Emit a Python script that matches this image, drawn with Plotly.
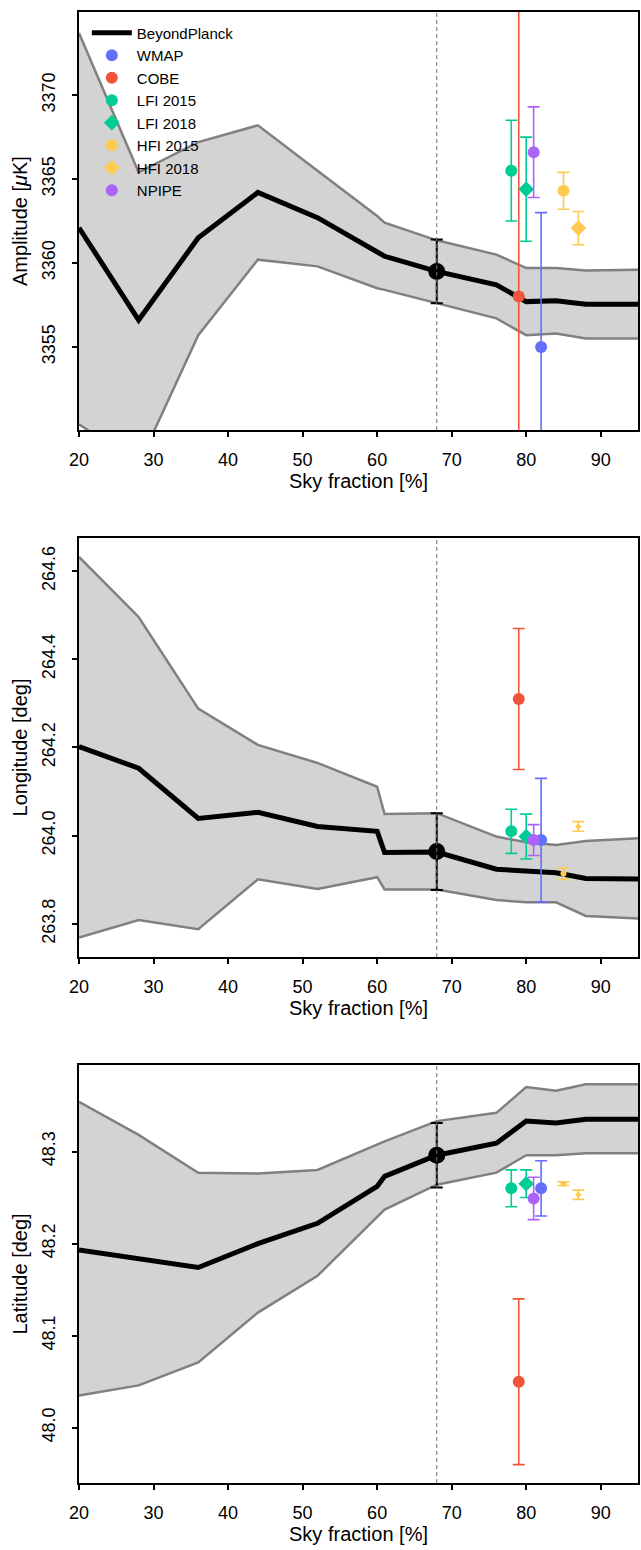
import plotly.graph_objects as go
from plotly.subplots import make_subplots

# Sky-fraction grid of the BeyondPlanck dipole estimates
fsky = [20, 28, 36, 44, 52, 60, 61, 68, 76, 80, 84, 88, 95]

# Amplitude [uK]: posterior mean and 1-sigma band
amp_mean = [3362.1, 3356.6, 3361.5, 3364.2, 3362.7, 3360.6, 3360.4, 3359.5, 3358.7, 3357.7, 3357.75, 3357.55, 3357.55]
amp_upper = [3373.7, 3365.4, 3367.2, 3368.2, 3365.5, 3362.8, 3362.4, 3361.35, 3360.5, 3359.7, 3359.7, 3359.55, 3359.6]
amp_lower = [3350.4, 3348.0, 3355.7, 3360.2, 3359.8, 3358.5, 3358.4, 3357.6, 3356.7, 3355.7, 3355.8, 3355.5, 3355.5]

# Galactic longitude [deg]
lon_mean = [264.202, 264.153, 264.039, 264.053, 264.021, 264.010, 263.962, 263.963, 263.924, 263.920, 263.916, 263.903, 263.902]
lon_upper = [264.632, 264.496, 264.288, 264.206, 264.165, 264.111, 264.049, 264.051, 263.998, 263.985, 263.979, 263.988, 263.994]
lon_lower = [263.769, 263.809, 263.788, 263.901, 263.879, 263.906, 263.878, 263.878, 263.854, 263.849, 263.849, 263.818, 263.812]

# Galactic latitude [deg]
lat_mean = [48.193, 48.183, 48.174, 48.200, 48.222, 48.262, 48.273, 48.296, 48.309, 48.333, 48.331, 48.335, 48.335]
lat_upper = [48.354, 48.318, 48.277, 48.276, 48.280, 48.307, 48.311, 48.333, 48.342, 48.370, 48.366, 48.373, 48.373]
lat_lower = [48.035, 48.046, 48.071, 48.125, 48.165, 48.229, 48.237, 48.264, 48.277, 48.296, 48.296, 48.298, 48.298]

# Reference BeyondPlanck estimate at the fiducial sky fraction
bp_fsky = 68
bp_amp, bp_amp_err = 3359.5, 1.9
bp_lon, bp_lon_err = 263.964, 0.087
bp_lat, bp_lat_err = 48.296, 0.035

# Previous measurements
experiments = ["WMAP", "COBE", "LFI 2015", "LFI 2018", "HFI 2015", "HFI 2018", "NPIPE"]
exp_fsky = [82, 79, 78, 80, 85, 87, 81]
exp_symbol = ["circle", "circle", "circle", "diamond", "circle", "diamond", "circle"]
exp_color = ["#636EFA", "#EF553B", "#00CC96", "#00CC96", "#FECB52", "#FECB52", "#AB63FA"]
exp_amp = [3355.0, 3358.0, 3365.5, 3364.4, 3364.3, 3362.08, 3366.6]
exp_amp_err = [8.0, 23.0, 3.0, 3.1, 1.1, 0.99, 2.7]
exp_lon = [263.99, 264.31, 264.01, 263.998, 263.914, 264.021, 263.99]
exp_lon_err = [0.14, 0.16, 0.05, 0.051, 0.013, 0.011, 0.035]
exp_lat = [48.26, 48.05, 48.26, 48.265, 48.265, 48.253, 48.249]
exp_lat_err = [0.03, 0.09, 0.02, 0.015, 0.002, 0.005, 0.023]

FONT = "Liberation Sans"
BAND_FILL = "#d3d3d3"
BAND_EDGE = "#808080"

fig = make_subplots(rows=3, cols=1)

panels = [
    (amp_mean, amp_upper, amp_lower, bp_amp, bp_amp_err, exp_amp, exp_amp_err),
    (lon_mean, lon_upper, lon_lower, bp_lon, bp_lon_err, exp_lon, exp_lon_err),
    (lat_mean, lat_upper, lat_lower, bp_lat, bp_lat_err, exp_lat, exp_lat_err),
]

for i, (mean, upper, lower, bp_val, bp_err, vals, errs) in enumerate(panels):
    row = i + 1
    first = i == 0
    fig.add_trace(go.Scatter(x=fsky, y=upper, mode="lines",
                             line=dict(color=BAND_EDGE, width=2.5),
                             showlegend=False, hoverinfo="skip"), row=row, col=1)
    fig.add_trace(go.Scatter(x=fsky, y=lower, mode="lines", fill="tonexty",
                             fillcolor=BAND_FILL,
                             line=dict(color=BAND_EDGE, width=2.5),
                             showlegend=False, hoverinfo="skip"), row=row, col=1)
    fig.add_trace(go.Scatter(x=fsky, y=mean, mode="lines", name="BeyondPlanck",
                             line=dict(color="black", width=5),
                             legendgroup="bp", showlegend=first), row=row, col=1)
    for name, fx, sym, col, v, e in zip(experiments, exp_fsky, exp_symbol, exp_color, vals, errs):
        small = (not first) and name.startswith("HFI")
        if sym == "diamond":
            size = 5 if small else 12
        else:
            size = 6 if small else 12
        fig.add_trace(go.Scatter(
            x=[fx], y=[v], mode="markers", name=name,
            marker=dict(symbol=sym, size=size, color=col, line=dict(width=0)),
            error_y=dict(type="data", array=[e], color=col, thickness=1.6, width=6),
            legendgroup=name, showlegend=first), row=row, col=1)
    fig.add_trace(go.Scatter(
        x=[bp_fsky], y=[bp_val], mode="markers",
        marker=dict(symbol="circle", size=17, color="black"),
        error_y=dict(type="data", array=[bp_err], color="black", thickness=2, width=6),
        showlegend=False), row=row, col=1)
    fig.add_vline(x=bp_fsky, line=dict(color="#707070", width=1, dash="4px,3px"),
                  layer="above", row=row, col=1)

# Panel placement (paper coordinates)
domains = [[0.7158, 1.0], [0.3576, 0.6424], [0.0, 0.2842]]
y_ranges = [[3350.05, 3374.95], [263.725, 264.675], [47.94, 48.394]]
y_titles = ["Amplitude [<i>μ</i>K]", "Longitude [deg]", "Latitude [deg]"]
y_dticks = [5, 0.2, 0.1]
y_formats = ["d", ".1f", ".1f"]

axis_common = dict(showline=True, linecolor="black", linewidth=1.5, mirror=True,
                   ticks="outside", ticklen=5, tickwidth=1.5, tickcolor="black",
                   showgrid=False, zeroline=False,
                   tickfont=dict(family=FONT, size=18, color="black"))

for i in range(3):
    fig.update_xaxes(range=[20, 95], dtick=10, tick0=20, ticklabelstandoff=8,
                     title=dict(text="Sky fraction [%]", standoff=4,
                                font=dict(family=FONT, size=20, color="black")),
                     **axis_common, row=i + 1, col=1)
    fig.update_yaxes(range=y_ranges[i], dtick=y_dticks[i], tickformat=y_formats[i],
                     tickangle=-90, domain=domains[i], ticklabelstandoff=10,
                     title=dict(text=y_titles[i], standoff=6,
                                font=dict(family=FONT, size=20, color="black")),
                     **axis_common, row=i + 1, col=1)

fig.update_layout(
    width=641, height=1550,
    margin=dict(l=79, r=1, t=12, b=67),
    paper_bgcolor="white", plot_bgcolor="white",
    font=dict(family=FONT, color="black"),
    legend=dict(x=0.014, y=0.997, xanchor="left", yanchor="top",
                bgcolor="rgba(0,0,0,0)", borderwidth=0, itemwidth=40,
                font=dict(family=FONT, size=15, color="black"),
                tracegroupgap=0),
)

fig.write_html("out.html")
